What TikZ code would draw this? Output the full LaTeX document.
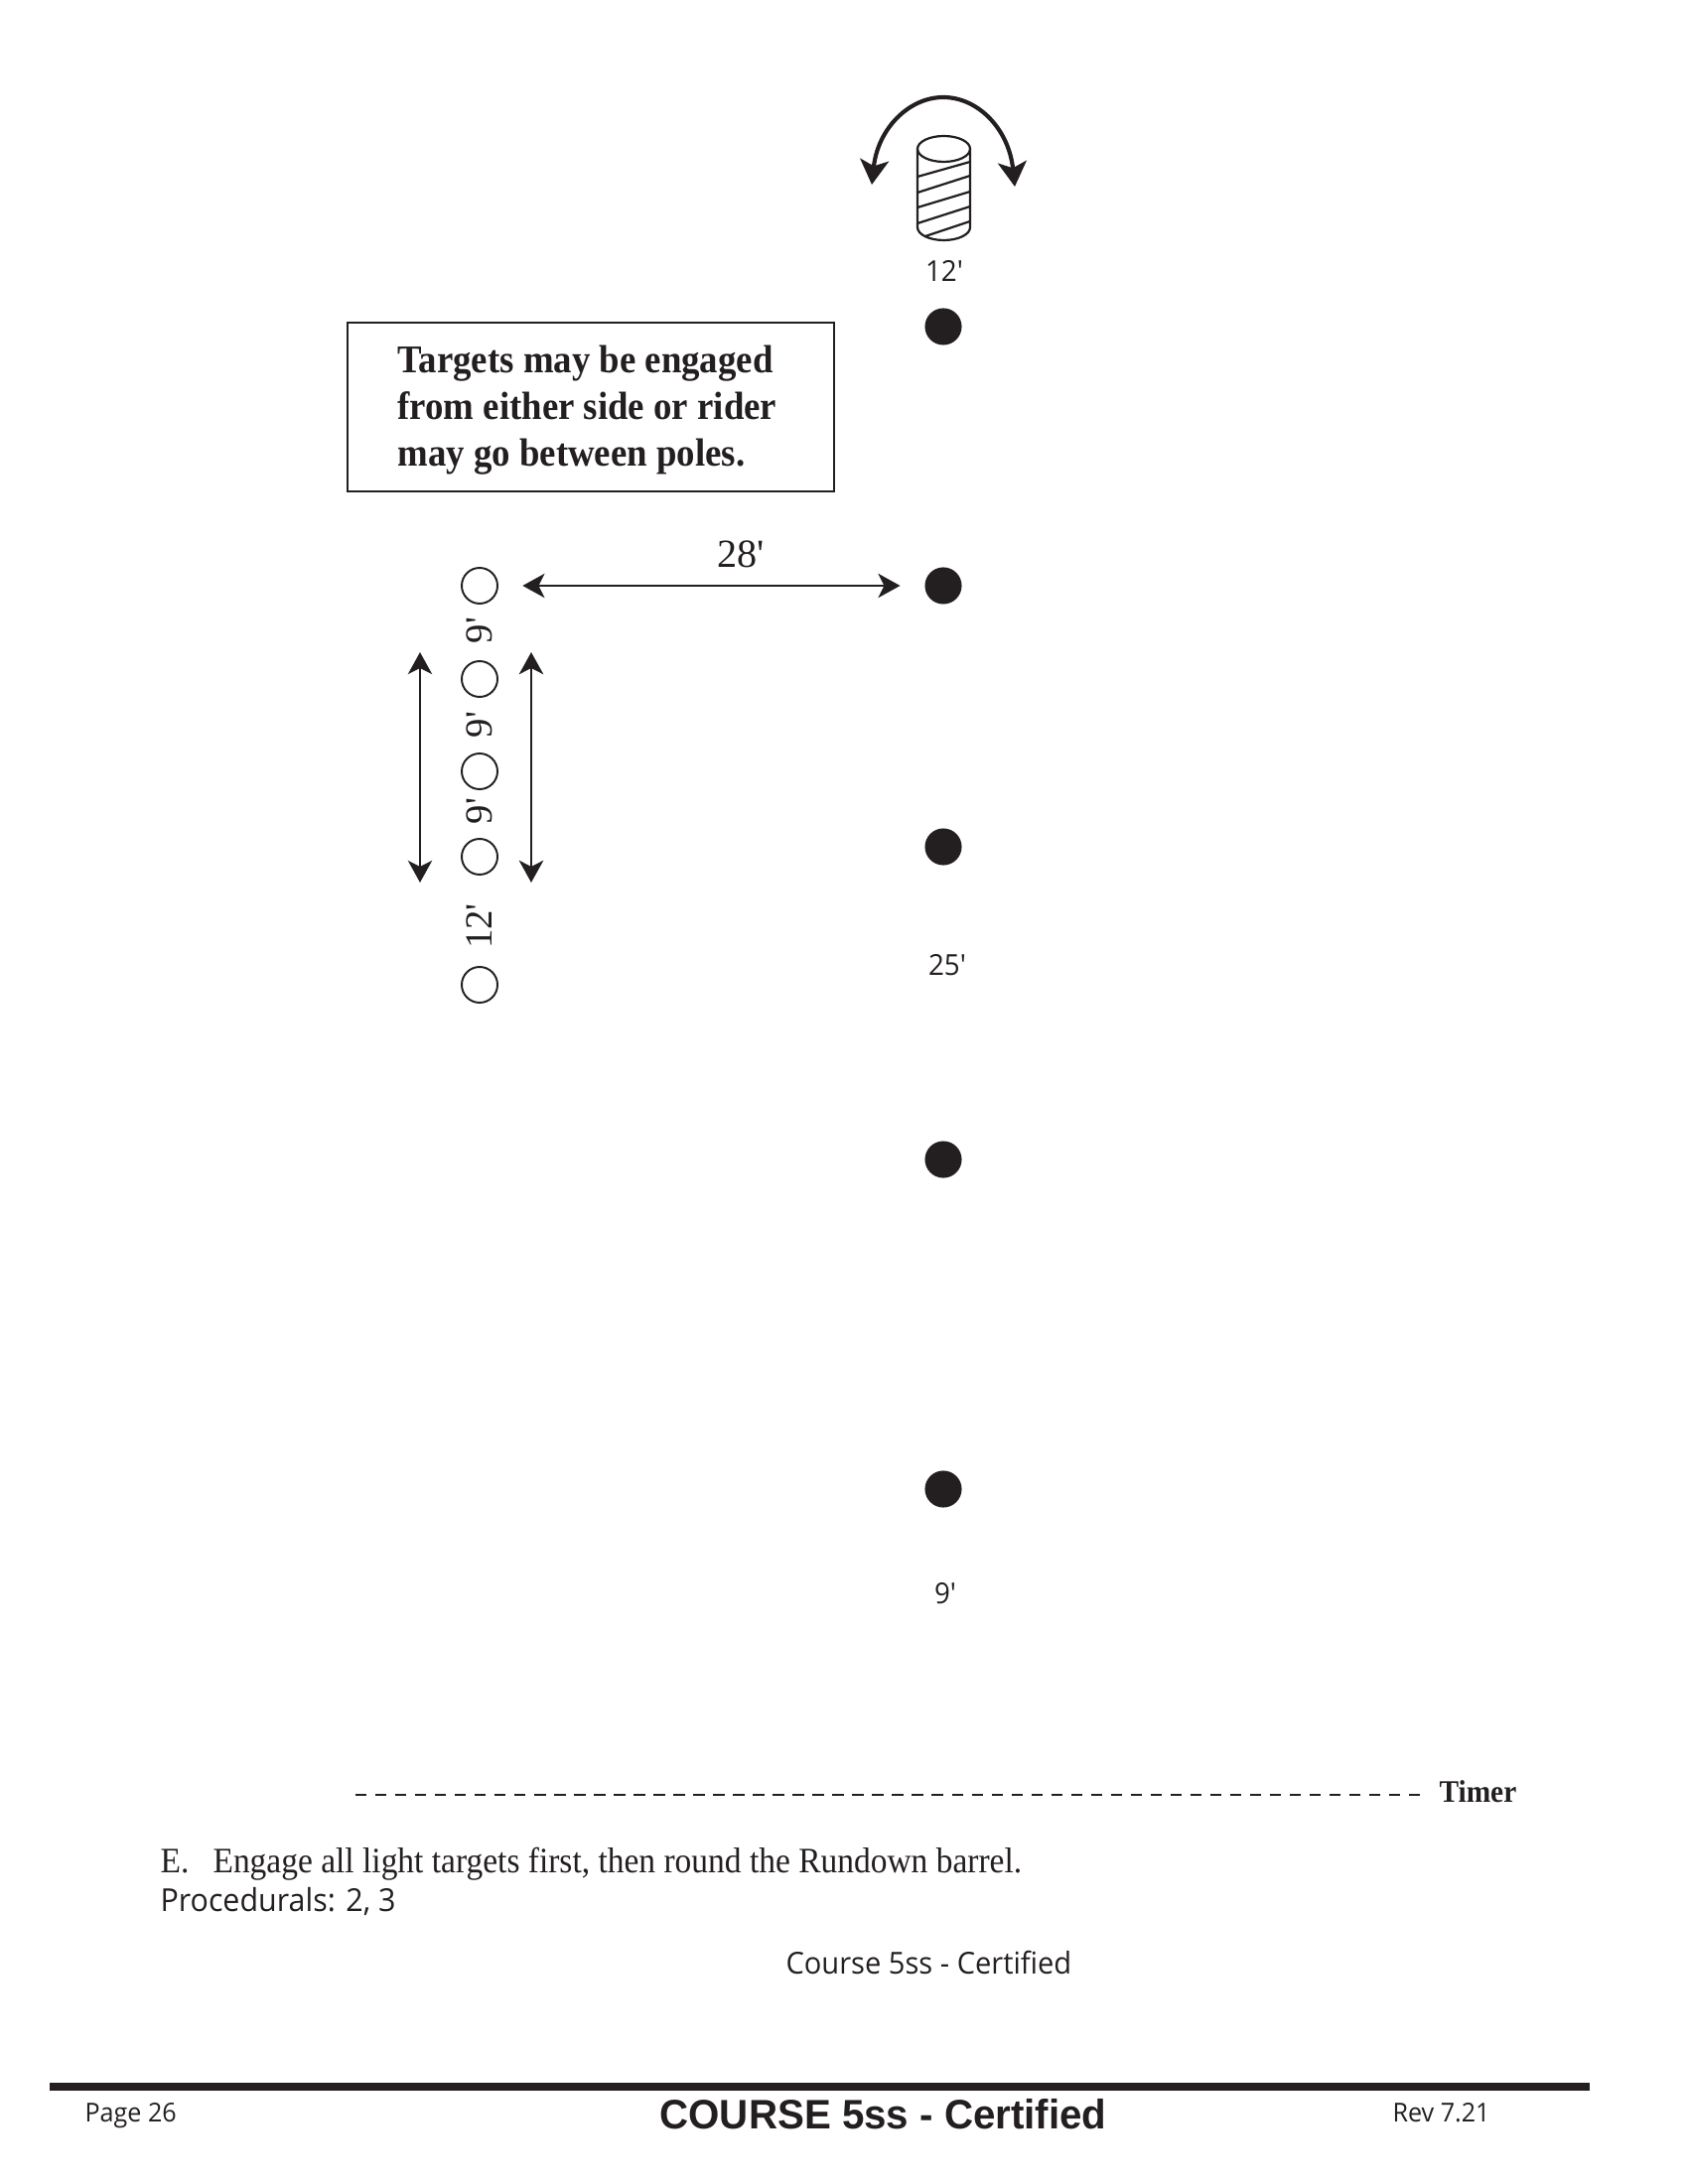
\documentclass[tikz,border=0pt]{standalone}
\usepackage{fontspec}
\usetikzlibrary{arrows.meta}
\setmainfont{Liberation Serif}
\setsansfont{Open Sans}[FakeStretch=0.955]
\newfontfamily\arialfont{Liberation Sans}[FakeStretch=0.97]
\newfontfamily\narrowserif{Liberation Serif}[FakeStretch=0.93]
\definecolor{inkblack}{HTML}{231F20}
\tikzset{
	pole/.style={circle, fill=inkblack, inner sep=0pt, minimum size=13.4pt},
	lighttarget/.style={circle, draw=inkblack, line width=0.7pt, inner sep=0pt, minimum size=13pt},
	distlabel/.style={font=\sffamily\fontsize{10.5}{12}\selectfont, text=inkblack, inner sep=0pt},
	gaplabel/.style={font=\fontsize{14}{16}\selectfont, text=inkblack, inner sep=0pt},
	dimarrow/.style={draw=inkblack, line width=0.75pt, {Stealth[length=8pt,width=8.8pt,inset=2.2pt]}-{Stealth[length=8pt,width=8.8pt,inset=2.2pt]}},
	pagetext/.style={anchor=base west, text=inkblack, inner sep=0pt},
}
\begin{document}
\begin{tikzpicture}[x=0.0127cm, y=-0.0127cm]
		\useasboundingbox (0,0) rectangle (1700,2200);
		
		% barrel
		\draw[inkblack, line width=0.8pt] (924,150) -- (924,229) arc[start angle=180, end angle=360, x radius=26.5, y radius=-13] -- (977,150);
		\draw[inkblack, line width=0.8pt] (950.5,150) ellipse[x radius=26.5, y radius=13];
		\foreach \ya/\yb in {178/163, 194/177, 209/193, 225/208} {
			\draw[inkblack, line width=0.8pt] (924,\ya) -- (977,\yb);
		}
		\draw[inkblack, line width=0.8pt] (932,238) -- (977,223);
		\coordinate (turnleft) at (878,186);
		\coordinate (turntop) at (950,98);
		\coordinate (turnright) at (1022,188);
		\draw[inkblack, line width=1.5pt, {Stealth[length=9pt,width=10.4pt,inset=2.2pt]}-{Stealth[length=9pt,width=10.4pt,inset=2.2pt]}] (turnleft) .. controls (884,130) and (915,98) .. (turntop) .. controls (985,98) and (1016,130) .. (turnright);
		
		% poles
		\node[pole] (pole1) at (950,329) {};
		\node[pole] (pole2) at (950,590) {};
		\node[pole] (pole3) at (950,853) {};
		\node[pole] (pole4) at (950,1168) {};
		\node[pole] (pole5) at (950,1500) {};
		\node[distlabel] (dist1) at (951,273) {12′};
		\node[distlabel] (dist2) at (954,972) {25′};
		\node[distlabel] (dist3) at (952,1605) {9′};
		
		% light targets
		\node[lighttarget] (light1) at (483,590) {};
		\node[lighttarget] (light2) at (483,684) {};
		\node[lighttarget] (light3) at (483,777) {};
		\node[lighttarget] (light4) at (483,863) {};
		\node[lighttarget] (light5) at (483,992) {};
		\node[gaplabel, rotate=90] (gap1) at (483,635) {9\textquotesingle};
		\node[gaplabel, rotate=90] (gap2) at (483,730) {9\textquotesingle};
		\node[gaplabel, rotate=90] (gap3) at (483,817) {9\textquotesingle};
		\node[gaplabel, rotate=90] (gap4) at (483,933) {12\textquotesingle};
		
		% arrows
		\coordinate (lefttop) at (423,657);
		\coordinate (leftbottom) at (423,889);
		\coordinate (righttop) at (535,657);
		\coordinate (rightbottom) at (535,889);
		\draw[dimarrow] (lefttop) -- (leftbottom);
		\draw[dimarrow, line width=1pt] (righttop) -- (rightbottom);
		\draw[dimarrow, shorten <=8.8pt, shorten >=8.8pt] (light1) -- (pole2);
		\node[gaplabel, font=\fontsize{14.5}{16}\selectfont] (gaplong) at (746,558) {28\textquotesingle};
		
		% note box
		\node[draw=inkblack, line width=1pt, minimum width=177pt, minimum height=61.4pt, inner sep=0pt] (notebox) at (595,410) {};
		\node[pagetext, font=\narrowserif\bfseries\fontsize{14.3}{17}\selectfont] (noteline1) at (400,376) {Targets may be engaged};
		\node[pagetext, font=\narrowserif\bfseries\fontsize{14.3}{17}\selectfont] (noteline2) at (400,423) {from either side or rider};
		\node[pagetext, font=\narrowserif\bfseries\fontsize{14.3}{17}\selectfont] (noteline3) at (400,470) {may go between poles.};
		
		% timer line
		\coordinate (timerstart) at (358,1808);
		\coordinate (timerend) at (1431,1808);
		\draw[inkblack, line width=0.95pt, dash pattern=on 4.1pt off 3.13pt] (timerstart) -- (timerend);
		\node[pagetext, font=\narrowserif\bfseries\fontsize{11.4}{13}\selectfont] (timer) at (1449,1815) {Timer};
		
		% text
		\node[pagetext, font=\narrowserif\fontsize{13}{15}\selectfont] (taskletter) at (161,1886) {E.};
		\node[pagetext, font=\narrowserif\fontsize{13}{15}\selectfont] (task) at (214,1886) {Engage all light targets first, then round the Rundown barrel.};
		\node[pagetext, font=\sffamily\fontsize{11.5}{14}\selectfont] (procedurals) at (161,1925) {Procedurals: 2, 3};
		\node[pagetext, font=\sffamily\fontsize{11}{14}\selectfont] (coursename) at (791,1988) {Course 5ss - Certified};
		
		% footer
		\coordinate (rulestart) at (50,2102);
		\coordinate (ruleend) at (1601,2102);
		\draw[inkblack, line width=2.7pt] (rulestart) -- (ruleend);
		\node[pagetext, font=\sffamily\fontsize{9.5}{12}\selectfont] (pagenumber) at (85,2137) {Page 26};
		\node[pagetext, font=\arialfont\bfseries\fontsize{15}{18}\selectfont] (coursetitle) at (664,2144) {COURSE 5ss - Certified};
		\node[pagetext, font=\sffamily\fontsize{9.5}{12}\selectfont] (revision) at (1402,2137) {Rev 7.21};
	\end{tikzpicture}
\end{document}
